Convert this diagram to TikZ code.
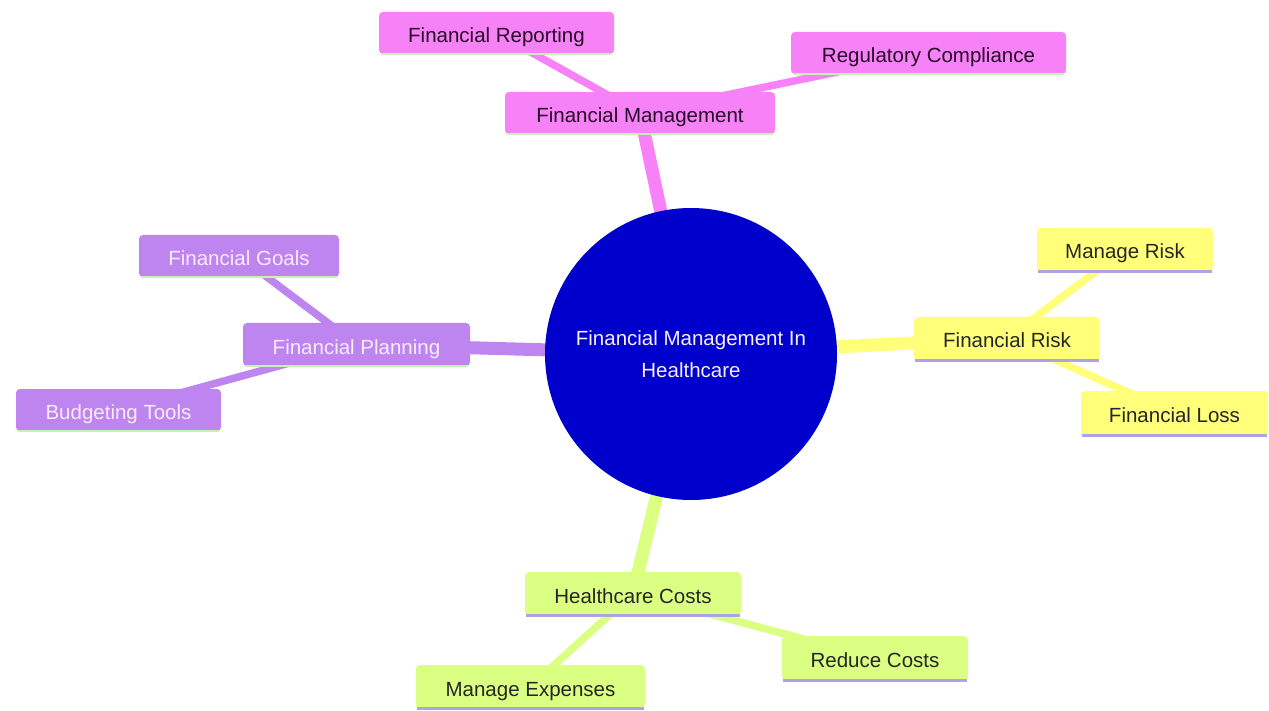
\documentclass[tikz,border=0pt]{standalone}
\usepackage{fontspec}
\setmainfont{Liberation Sans}
\pgfdeclarelayer{background}
\pgfsetlayers{background,main}
\definecolor{cpink}{RGB}{247,130,247}
\definecolor{cpurple}{RGB}{190,132,240}
\definecolor{cyellow}{RGB}{255,255,122}
\definecolor{cgreen}{RGB}{218,255,130}
\definecolor{lgreen}{RGB}{196,245,176}
\definecolor{lav}{RGB}{172,164,228}
\definecolor{cblue}{RGB}{0,0,204}
\definecolor{ptext}{RGB}{40,10,40}
\definecolor{wtext}{RGB}{248,236,255}
\begin{document}
\begin{tikzpicture}[x=1pt,y=-1pt,
  box/.style={rectangle,rounded corners=4pt,inner sep=0pt,minimum height=42pt,
    text height=19pt,text depth=0pt,
    font=\fontsize{20.5}{24}\selectfont},
  pinkbox/.style={box,fill=cpink,text=ptext},
  purplebox/.style={box,fill=cpurple,text=wtext},
  yellowbox/.style={box,fill=cyellow,text=black!85},
  greenbox/.style={box,fill=cgreen,text=black!85},
  ulg/.style={draw=lgreen,line width=2.5pt},
  ulv/.style={draw=lav,line width=3pt},
  mainedge/.style={line width=13pt},
  subedge/.style={line width=7.5pt}]
\useasboundingbox (0,0) rectangle (1269,711);

\node[circle,fill=cblue,minimum size=292pt,inner sep=0pt,text=wtext,align=center,
  font=\fontsize{20.5}{32}\selectfont] (root) at (691,354)
  {Financial Management In\\Healthcare};

\node[pinkbox,minimum width=270pt] (fm) at (640,113) {Financial Management};
\node[pinkbox,minimum width=235pt] (fr) at (496.5,33) {Financial Reporting};
\node[pinkbox,minimum width=275pt] (rc) at (928.5,53) {Regulatory Compliance};

\node[purplebox,minimum width=227pt,minimum height=43pt] (fp) at (356.5,344.5) {Financial Planning};
\node[purplebox,minimum width=200pt] (fg) at (239,256) {Financial Goals};
\node[purplebox,minimum width=205pt] (bt) at (118.5,410) {Budgeting Tools};

\node[yellowbox,minimum width=186pt,minimum height=43pt] (frisk) at (1007,338.5) {Financial Risk};
\node[yellowbox,minimum width=176pt,minimum height=43pt] (mr) at (1125,249.5) {Manage Risk};
\node[yellowbox,minimum width=187pt,minimum height=44pt] (fl) at (1174.5,413) {Financial Loss};

\node[greenbox,minimum width=216pt,minimum height=43pt] (hc) at (633,593.5) {Healthcare Costs};
\node[greenbox,minimum width=229pt,minimum height=43pt] (me) at (530.5,686.5) {Manage Expenses};
\node[greenbox,minimum width=186pt,minimum height=44pt] (rdc) at (875,658) {Reduce Costs};

\begin{pgfonlayer}{background}
\fill[white] (0,0) rectangle (1269,711);
\draw[cpink,mainedge] (root.center) -- (fm.center);
\draw[cpink,subedge] (fm.center) -- (fr.center);
\draw[cpink,subedge] (fm.center) -- (rc.center);
\draw[cpurple,mainedge] (root.center) -- (fp.center);
\draw[cpurple,subedge] (fp.center) -- (fg.center);
\draw[cpurple,subedge] (fp.center) -- (bt.center);
\draw[cyellow,mainedge] (root.center) -- (frisk.center);
\draw[cyellow,subedge] (frisk.center) -- (mr.center);
\draw[cyellow,subedge] (frisk.center) -- (fl.center);
\draw[cgreen,mainedge] (root.center) -- (hc.center);
\draw[cgreen,subedge] (hc.center) -- (me.center);
\draw[cgreen,subedge] (hc.center) -- (rdc.center);
\end{pgfonlayer}

\foreach \n in {fm,fr,rc,fp,fg,bt}
  \draw[ulg] ([xshift=2pt]\n.south west) -- ([xshift=-2pt]\n.south east);
\foreach \n in {frisk,mr,fl,hc,me,rdc}
  \draw[ulv] ([xshift=1pt]\n.south west) -- ([xshift=-1pt]\n.south east);
\end{tikzpicture}
\end{document}
